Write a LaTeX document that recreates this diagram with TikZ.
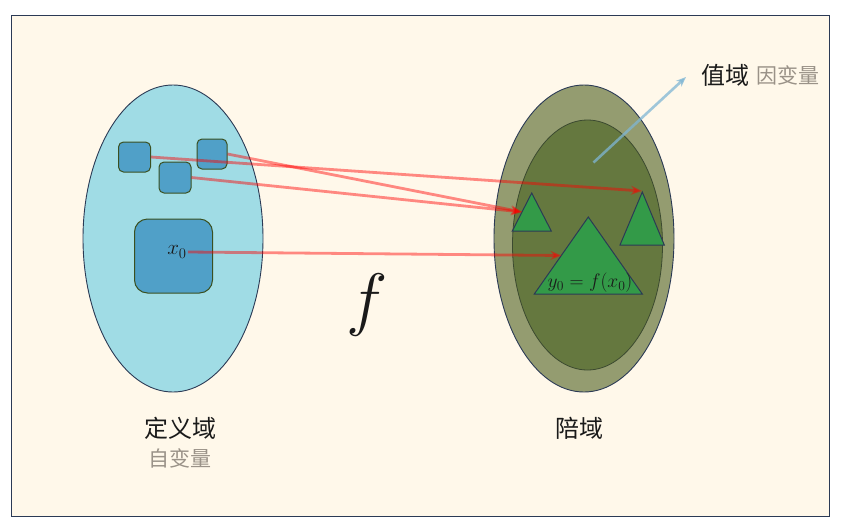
\RequirePackage{fix-cm}
\documentclass[tikz,border=0pt]{standalone}
\usepackage{fontspec}
\newfontfamily\cjk{Noto Sans CJK SC}
\usetikzlibrary{shapes.geometric,arrows.meta}
\definecolor{bgcream}{HTML}{FFF8EA}
\definecolor{navy}{HTML}{2B3A55}
\definecolor{domfill}{HTML}{A0DCE5}
\definecolor{sqfill}{HTML}{50A0C8}
\definecolor{sqdraw}{HTML}{3B5020}
\definecolor{codfill}{HTML}{949C70}
\definecolor{rngfill}{HTML}{65783F}
\definecolor{rngdraw}{HTML}{3C4A30}
\definecolor{trifill}{HTML}{339A48}
\definecolor{arrblue}{HTML}{7FB6D4}
\definecolor{txtgray}{HTML}{9A9288}
\definecolor{txtdark}{HTML}{1A1A1A}
\tikzset{
  setbox/.style={ellipse, draw=navy, line width=0.9pt, inner sep=0pt},
  elemsq/.style={draw=sqdraw, fill=sqfill, line width=1pt, rounded corners=5pt, inner sep=0pt},
  tri/.style={draw=navy, fill=trifill, line width=1pt, line join=miter},
  maparrow/.style={draw=red, opacity=0.45, line width=2.8pt, -{Stealth[length=11pt,width=9pt]}},
  cjkbig/.style={font=\cjk\fontsize{24}{28}\selectfont, text=txtdark, inner sep=0pt},
  cjksmall/.style={font=\cjk\fontsize{21}{25}\selectfont, text=txtgray, inner sep=0pt},
}
\begin{document}
\begin{tikzpicture}[x=1pt,y=-1pt]
\useasboundingbox (0,0) rectangle (847,523);
\draw[navy, fill=bgcream, line width=0.9pt] (11.5,15.5) rectangle (829,516.5);

% domain
\node[setbox, fill=domfill, minimum width=180pt, minimum height=307pt] (dom) at (173,238.5) {};
\node[elemsq, minimum width=32pt, minimum height=30pt] (s1) at (134.5,157) {};
\node[elemsq, minimum width=30pt, minimum height=30pt] (s2) at (212,154) {};
\node[elemsq, minimum width=32pt, minimum height=31pt] (s3) at (175,177.5) {};
\node[elemsq, rounded corners=13pt, minimum width=78pt, minimum height=74pt] (sbig) at (173.5,256) {};
\node[inner sep=1pt, text=txtdark, font=\fontsize{21}{25}\selectfont] (x0) at (177,252) {$x_0$};

% codomain and range
\node[setbox, fill=codfill, minimum width=180pt, minimum height=307pt] (cod) at (584,238.5) {};
\node[ellipse, draw=rngdraw, fill=rngfill, line width=0.8pt, inner sep=0pt, minimum width=150pt, minimum height=250pt] (rng) at (587.5,245) {};

% triangles
\coordinate (tLa) at (531.7,193);
\coordinate (tLb) at (512.3,231);
\coordinate (tLc) at (551.3,231);
\coordinate (tRa) at (642.3,192);
\coordinate (tRb) at (620,245);
\coordinate (tRc) at (664.3,245);
\coordinate (tBa) at (588.3,217);
\coordinate (tBb) at (534.3,294);
\coordinate (tBc) at (642.3,294);
\draw[tri] (tLa) -- (tLb) -- (tLc) -- cycle;
\draw[tri] (tRa) -- (tRb) -- (tRc) -- cycle;
\draw[tri] (tBa) -- (tBb) -- (tBc) -- cycle;
\node[inner sep=0pt, text=txtdark, font=\fontsize{19.5}{23}\selectfont] (y0) at (590,283) {$y_0=f(x_0)$};

% mapping arrows
\coordinate (tLm) at (522,212);
\coordinate (tBm) at (561.5,255.5);
\coordinate (tRm) at (642,191);
\path[maparrow] (s1.east) -- (tRm);
\path[maparrow] (s2.east) -- (tLm);
\path[maparrow] (s3.east) -- (tLm);
\path[maparrow] (x0.east) -- (tBm);

% range arrow
\coordinate (rs) at (593.5,162.5);
\node[cjkbig, anchor=center] (zhi) at (725.5,75.5) {值域};
\node[cjksmall, anchor=center] (yin) at (788,75.5) {因变量};
\coordinate (rt) at (686,77);
\draw[arrblue, opacity=0.75, line width=2.6pt, -{Stealth[length=10pt,width=8pt]}] (rs) -- (rt);

% f
\node[inner sep=0pt, text=txtdark, font=\fontsize{70}{75}\selectfont] (fmap) at (367,305) {$f$};

% labels
\node[cjkbig] (ldom) at (180,428) {定义域};
\node[cjksmall] (ldom2) at (179.5,458.5) {自变量};
\node[cjkbig] (lcod) at (579.5,428) {陪域};
\end{tikzpicture}
\end{document}
